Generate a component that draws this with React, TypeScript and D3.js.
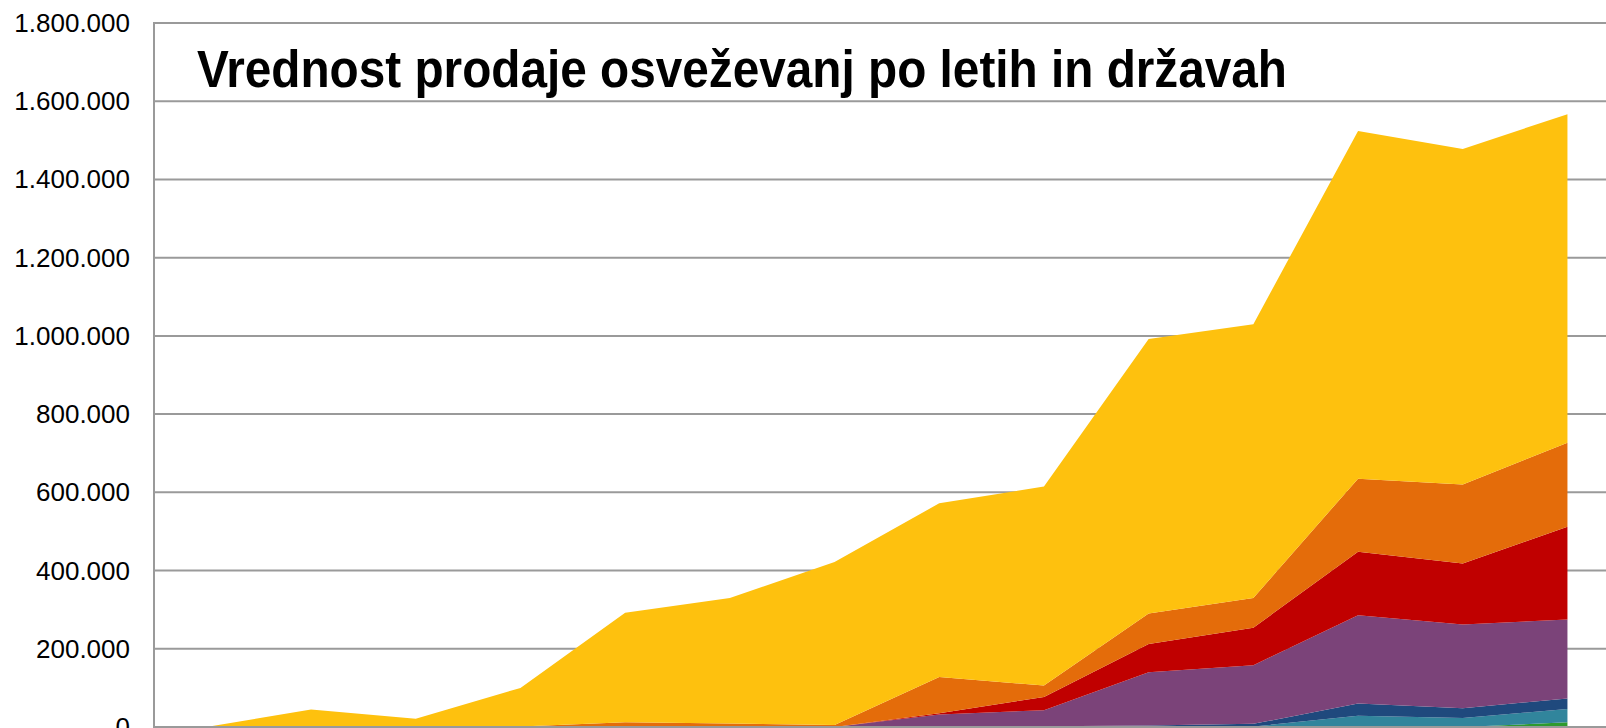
import React from "react";
import * as d3 from "d3";

const periods = ["1", "2", "3", "4", "5", "6", "7", "8", "9", "10", "11", "12", "13", "14"];

const green = [0, 0, 0, 0, 0, 0, 0, 0, 0, 0, 0, 0, 0, 12000];
const teal = [0, 0, 0, 0, 0, 0, 0, 0, 0, 0, 1000, 29000, 23000, 34000];
const darkBlue = [0, 0, 0, 0, 0, 0, 0, 0, 2000, 4000, 7000, 31000, 25000, 27000];
const purple = [0, 0, 0, 0, 0, 0, 0, 32000, 41000, 136000, 150000, 226000, 214000, 202000];
const red = [0, 0, 0, 0, 0, 0, 0, 3000, 34000, 72000, 96000, 162000, 156000, 237000];
const orange = [0, 0, 0, 1000, 12000, 9000, 5000, 93000, 29000, 78000, 76000, 187000, 202000, 215000];
const yellow = [0, 45000, 21000, 99000, 280000, 321000, 417000, 444000, 509000, 702000, 700000, 889000, 858000, 840000];

const seriesKeys = ["green", "teal", "darkBlue", "purple", "red", "orange", "yellow"];
const seriesValues: Record<string, number[]> = { green, teal, darkBlue, purple, red, orange, yellow };
const seriesColors: Record<string, string> = {
  green: "#2E9A2E",
  teal: "#31859C",
  darkBlue: "#1F497D",
  purple: "#7B4379",
  red: "#C00000",
  orange: "#E46C0A",
  yellow: "#FEC10E",
};

const yTicks = [0, 200000, 400000, 600000, 800000, 1000000, 1200000, 1400000, 1600000, 1800000];
const title = "Vrednost prodaje osveževanj po letih in državah";

const W = 1606;
const H = 728;
const left = 154;
const top = 23;
const bottom = 727;
const step = 104.7;

export default function App() {
  const x = d3
    .scaleBand<string>()
    .domain(periods)
    .range([left, left + step * periods.length])
    .padding(0);
  const y = d3.scaleLinear().domain([0, 1800000]).range([bottom, top]);
  const locale = d3.formatLocale({ decimal: ",", thousands: ".", grouping: [3], currency: ["", "€"] });
  const fmt = locale.format(",.0f");

  const rows = periods.map((p, i) => {
    const r: any = { period: p };
    seriesKeys.forEach((k) => (r[k] = seriesValues[k][i]));
    return r;
  });
  const stacked = d3.stack<any>().keys(seriesKeys)(rows);
  const area = d3
    .area<any>()
    .x((d) => (x(d.data.period) as number) + x.bandwidth() / 2)
    .y0((d) => y(d[0]))
    .y1((d) => y(d[1]));

  return (
    <svg
      width={W}
      height={H}
      style={{ position: "fixed", left: 0, top: 0, background: "#fff" }}
      fontFamily="'Liberation Sans', Arial, sans-serif"
    >
      <rect x={0} y={0} width={W} height={H} fill="#fff" />
      {yTicks.map((t) => (
        <line key={"g" + t} x1={left} x2={W + 20} y1={y(t)} y2={y(t)} stroke="#9A9A9A" strokeWidth={2} />
      ))}
      {stacked.map((s) => (
        <path key={s.key} d={area(s) || ""} fill={seriesColors[s.key]} />
      ))}
      <line x1={left} x2={left} y1={top - 1} y2={bottom + 1} stroke="#9A9A9A" strokeWidth={2} />
      <line x1={left} x2={W + 20} y1={bottom} y2={bottom} stroke="#9A9A9A" strokeWidth={2} />
      {yTicks.map((t) => (
        <text key={"t" + t} x={130} y={y(t)} textAnchor="end" dominantBaseline="central" fontSize={26} fill="#000">
          {fmt(t)}
        </text>
      ))}
      <text
        x={197}
        y={87}
        fontSize={51}
        fontWeight="bold"
        fill="#000"
        textLength={1090}
        lengthAdjust="spacingAndGlyphs"
      >
        {title}
      </text>
    </svg>
  );
}
